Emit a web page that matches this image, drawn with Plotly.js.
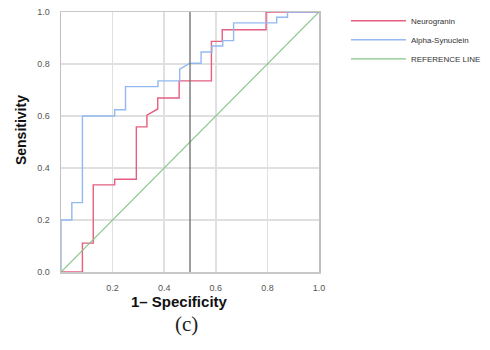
<!DOCTYPE html>
<html>
<head>
<meta charset="utf-8">
<script src="https://cdn.plot.ly/plotly-3.0.1.min.js"></script>
<style>html,body{margin:0;padding:0;background:#fff;}#chart{width:490px;height:350px;}</style>
</head>
<body>
<div id="chart"></div>
<script>
// ROC curve data (1 - specificity, sensitivity)
const neuroX = [0, 0.083, 0.083, 0.125, 0.125, 0.208, 0.208, 0.292, 0.292, 0.333, 0.333, 0.375, 0.375, 0.458, 0.458, 0.583, 0.583, 0.625, 0.625, 0.795, 0.795, 1];
const neuroY = [0, 0, 0.111, 0.111, 0.335, 0.335, 0.357, 0.357, 0.558, 0.558, 0.603, 0.627, 0.669, 0.669, 0.735, 0.735, 0.887, 0.887, 0.932, 0.932, 1, 1];
const alphaX = [0, 0, 0.042, 0.042, 0.083, 0.083, 0.208, 0.208, 0.25, 0.25, 0.376, 0.376, 0.46, 0.46, 0.5, 0.543, 0.543, 0.585, 0.585, 0.627, 0.627, 0.669, 0.669, 0.836, 0.836, 0.878, 0.878, 1];
const alphaY = [0, 0.2, 0.2, 0.267, 0.267, 0.6, 0.6, 0.624, 0.624, 0.713, 0.713, 0.735, 0.735, 0.78, 0.803, 0.803, 0.846, 0.846, 0.869, 0.869, 0.89, 0.89, 0.958, 0.958, 0.98, 0.98, 1, 1];
const refX = [0, 1];
const refY = [0, 1];
const seriesNames = ['Neurogranin', 'Alpha-Synuclein', 'REFERENCE LINE'];
const xTicks = [0.2, 0.4, 0.6, 0.8, 1.0];
const xTickText = ['0.2', '0.4', '0.6', '0.8', '1.0'];
const yTicks = [0, 0.2, 0.4, 0.6, 0.8, 1.0];
const yTickText = ['0.0', '0.2', '0.4', '0.6', '0.8', '1.0'];
const cutoffX = 0.5;

const traces = [
  {x: neuroX, y: neuroY, name: seriesNames[0], mode: 'lines', line: {color: '#e65f80', width: 1.4}},
  {x: alphaX, y: alphaY, name: seriesNames[1], mode: 'lines', line: {color: '#93b9ef', width: 1.4}},
  {x: refX, y: refY, name: seriesNames[2], mode: 'lines', line: {color: '#86c486', width: 1.2}}
];

const layout = {
  width: 490, height: 350,
  margin: {l: 61, r: 170.5, t: 12, b: 78, pad: 0},
  paper_bgcolor: '#fff', plot_bgcolor: '#fff',
  font: {family: 'Liberation Sans, Arial, sans-serif', color: '#555'},
  showlegend: true,
  legend: {
    xref: 'container', yref: 'container',
    x: 0.706, y: 0.982, xanchor: 'left', yanchor: 'top',
    font: {size: 8, color: '#333'},
    bgcolor: 'rgba(0,0,0,0)', itemwidth: 55, tracegroupgap: 0
  },
  xaxis: {
    range: [0, 1], tickvals: xTicks, ticktext: xTickText,
    showgrid: true, gridcolor: '#e0e0e0', gridwidth: 1.5,
    zeroline: false, showline: true, linecolor: '#c8c8c8', linewidth: 1.5, mirror: true,
    ticks: '', ticklabelstandoff: 7,
    tickfont: {size: 9, color: '#555'}, fixedrange: true
  },
  yaxis: {
    range: [0, 1], tickvals: yTicks, ticktext: yTickText,
    showgrid: true, gridcolor: '#e0e0e0', gridwidth: 1.5,
    zeroline: false, showline: true, linecolor: '#c0c0c0', linewidth: 1.5, mirror: true,
    ticks: '', ticklabelstandoff: 8,
    tickfont: {size: 9, color: '#555'}, fixedrange: true
  },
  shapes: [
    {type: 'line', xref: 'x', yref: 'y', x0: cutoffX, x1: cutoffX, y0: 0, y1: 1,
     line: {color: '#6a6a6a', width: 1.3}}
  ],
  annotations: [
    {text: '<b>Sensitivity</b>', xref: 'paper', yref: 'paper', x: -0.152, y: 0.545,
     xanchor: 'center', yanchor: 'middle', textangle: -90, showarrow: false,
     font: {size: 14, color: '#111', family: 'Liberation Sans, Arial, sans-serif'}},
    {text: '<b>1– Specificity</b>', xref: 'paper', yref: 'paper', x: 0.46, y: -0.115,
     xanchor: 'center', yanchor: 'middle', showarrow: false,
     font: {size: 15, color: '#111', family: 'Liberation Sans, Arial, sans-serif'}},
    {text: '(c)', xref: 'paper', yref: 'paper', x: 0.485, y: -0.2,
     xanchor: 'center', yanchor: 'middle', showarrow: false,
     font: {size: 21, color: '#222', family: 'Liberation Serif, serif'}}
  ]
};

Plotly.newPlot('chart', traces, layout, {displayModeBar: false, staticPlot: true});
</script>
</body>
</html>
